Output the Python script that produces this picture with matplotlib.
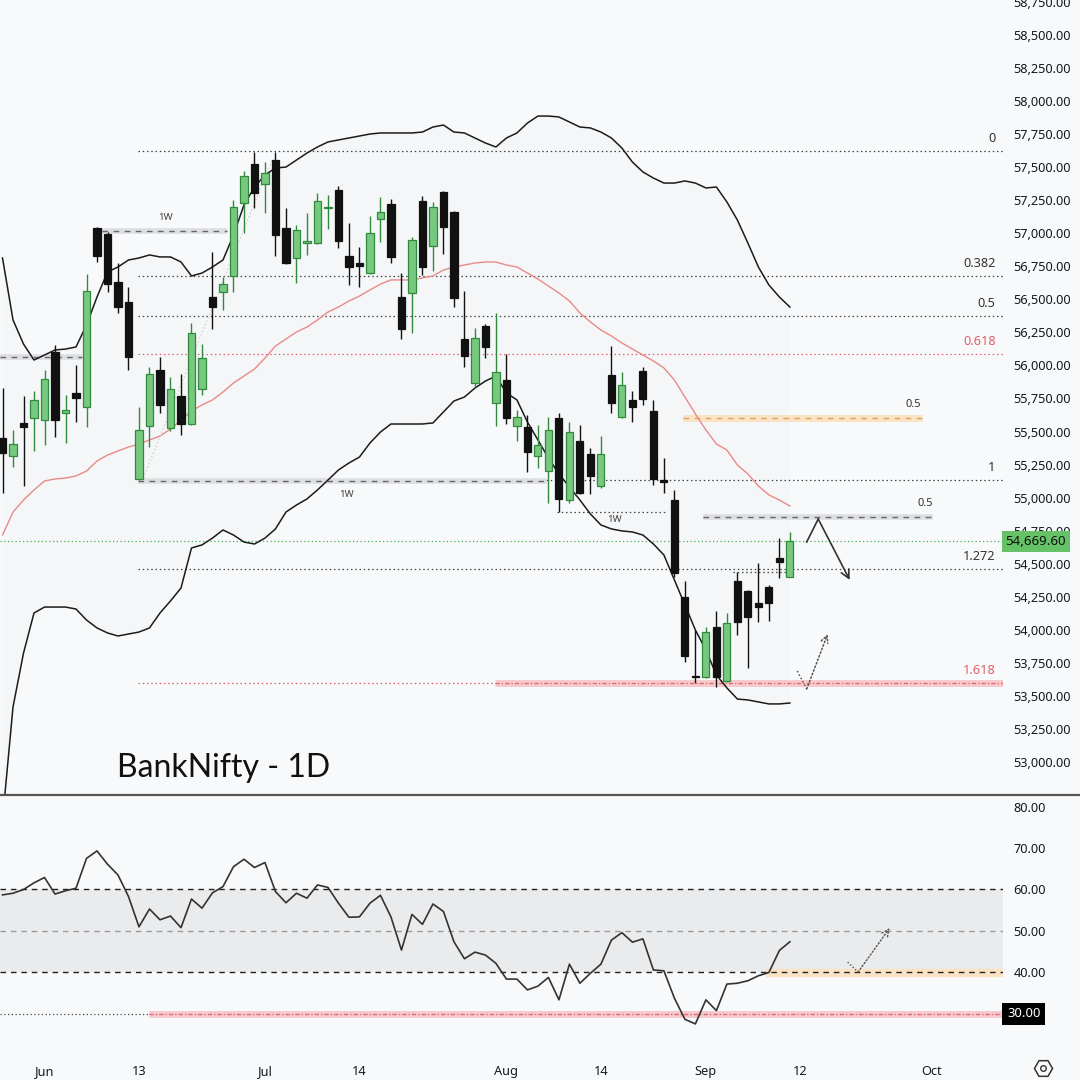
import numpy as np
import matplotlib
matplotlib.use("Agg")
import matplotlib.pyplot as plt
from matplotlib.lines import Line2D

# BankNifty daily candles, 27 May -> 11 Sep (one entry per trading day)
opens = [55449, 55315, 55565, 55603, 55587, 56102, 55640, 55792, 55686, 57040,
         56995, 56632, 56480, 55141, 55542, 55966, 55527, 55769, 55557, 55822,
         56518, 56556, 56677, 57229, 57524, 57373, 57555, 57040, 56813, 56927,
         56927, 57191, 57328, 56828, 56775, 56700, 57108, 57222, 56518, 56548,
         57244, 56904, 57312, 57161, 56200, 55867, 56299, 55716, 55890, 55542,
         55534, 55315, 55202, 55603, 54982, 55429, 55330, 55088, 55928, 55610,
         55739, 55958, 55656, 55134, 54982, 54248, 53651, 53643, 54021, 53613,
         54369, 54294, 54203, 54324, 54543, 54400]
highs = [55827, 55512, 55769, 55807, 55966, 56155, 55777, 56004, 56692, 57048,
         57010, 56775, 56594, 55686, 55988, 56064, 55913, 55935, 56321, 56162,
         56858, 56669, 57252, 57471, 57615, 57539, 57615, 57191, 57063, 57154,
         57305, 57290, 57358, 57078, 56896, 57131, 57275, 57260, 56700, 56972,
         57282, 57237, 57320, 57169, 56563, 56283, 56314, 56397, 56087, 55663,
         55625, 55550, 55610, 55640, 55572, 55550, 55376, 55466, 56147, 55951,
         55807, 55988, 55739, 55300, 55058, 54369, 53999, 54021, 54142, 54127,
         54437, 54300, 54505, 54339, 54695, 54740]
lows = [55033, 55232, 55088, 55353, 55398, 55459, 55413, 55572, 55534, 56783,
        56556, 56397, 55966, 55134, 55383, 55640, 55504, 55474, 55550, 55777,
        56276, 56420, 56556, 57002, 57191, 57154, 56828, 56768, 56624, 56836,
        56920, 57033, 56889, 56609, 56594, 56692, 56934, 56775, 56200, 56246,
        56684, 56715, 56843, 56442, 55988, 55837, 56056, 55542, 55557, 55429,
        55194, 55224, 54960, 54891, 54960, 55028, 55028, 55073, 55640, 55605,
        55572, 55701, 55096, 55035, 54400, 53756, 53598, 53635, 53567, 53605,
        53961, 53711, 54059, 54067, 54392, 54400]
closes = [55340, 55406, 55534, 55739, 55898, 55587, 55663, 55754, 56563, 56828,
          56616, 56442, 56064, 55512, 55935, 55701, 55822, 55557, 56246, 56056,
          56442, 56616, 57199, 57434, 57305, 57456, 56987, 56775, 57025, 56942,
          57244, 57199, 56942, 56745, 56753, 57002, 57161, 56821, 56276, 56949,
          56745, 57199, 57048, 56510, 56072, 56208, 56140, 55951, 55603, 55610,
          55345, 55398, 55512, 54990, 55497, 55035, 55164, 55330, 55716, 55852,
          55686, 55746, 55141, 55118, 54430, 53802, 53643, 53983, 53643, 54052,
          54059, 54097, 54173, 54203, 54512, 54669.60]

# Bollinger bands
bb_upper = [56813, 56344, 56162, 56041, 56079, 56117, 56124, 56140, 56306, 56518,
            56707, 56745, 56798, 56813, 56836, 56821, 56821, 56783, 56677, 56699,
            56745, 56798, 56987, 57214, 57350, 57441, 57494, 57501, 57554, 57607,
            57653, 57691, 57706, 57721, 57736, 57751, 57759, 57759, 57759, 57759,
            57766, 57804, 57819, 57766, 57759, 57721, 57683, 57653, 57721, 57759,
            57834, 57887, 57887, 57880, 57842, 57804, 57797, 57766, 57721, 57645,
            57539, 57464, 57418, 57380, 57380, 57396, 57380, 57343, 57350, 57237,
            57100, 56926, 56745, 56609, 56518, 56442]
bb_basis = [54717, 54891, 54982, 55058, 55126, 55141, 55148, 55164, 55201, 55277,
            55322, 55353, 55383, 55406, 55436, 55466, 55519, 55587, 55655, 55701,
            55739, 55799, 55867, 55920, 55973, 56056, 56147, 56200, 56253, 56291,
            56344, 56404, 56442, 56488, 56525, 56571, 56616, 56647, 56647, 56647,
            56662, 56677, 56722, 56745, 56760, 56775, 56783, 56783, 56760, 56745,
            56699, 56654, 56601, 56548, 56488, 56397, 56329, 56268, 56223, 56170,
            56124, 56079, 56034, 55981, 55890, 55761, 55633, 55512, 55406, 55360,
            55247, 55179, 55088, 55020, 54982, 54937]
bb_lower = [52561, 53416, 53824, 54127, 54172, 54172, 54172, 54157, 54074, 54014,
            53976, 53953, 53968, 53983, 54014, 54127, 54218, 54316, 54619, 54642,
            54694, 54755, 54717, 54664, 54649, 54694, 54763, 54891, 54944, 54990,
            55058, 55133, 55209, 55262, 55307, 55413, 55496, 55557, 55557, 55557,
            55557, 55565, 55648, 55731, 55761, 55829, 55882, 55920, 55792, 55739,
            55572, 55436, 55300, 55179, 55080, 54982, 54876, 54793, 54763, 54748,
            54740, 54717, 54649, 54566, 54377, 54188, 53998, 53847, 53658, 53560,
            53476, 53469, 53454, 53439, 53439, 53446]

rsi = [58.7, 59.1, 60.0, 61.6, 62.9, 58.9, 59.7, 60.3, 67.5, 69.3,
       66.1, 63.5, 58.3, 51.0, 55.3, 52.7, 53.6, 50.8, 57.7, 55.5,
       59.2, 60.7, 65.5, 67.3, 65.3, 66.5, 59.5, 56.8, 59.1, 57.9,
       61.1, 60.5, 56.7, 53.3, 53.4, 56.7, 58.6, 53.4, 45.4, 54.0,
       51.6, 56.5, 54.7, 47.4, 43.3, 44.9, 44.2, 42.2, 38.4, 38.4,
       35.8, 36.7, 38.8, 33.4, 42.0, 37.4, 39.8, 42.0, 47.8, 49.6,
       47.3, 48.1, 40.6, 40.4, 33.8, 28.7, 27.6, 33.4, 30.8, 37.2,
       37.4, 38.0, 39.2, 40.0, 45.3, 47.4]

date_ticks = [4, 13, 25, 34, 48, 57, 67, 76, 88.5]
date_labels = ["Jun", "13", "Jul", "14", "Aug", "14", "Sep", "12", "Oct"]

fib_labels = ["0", "0.382", "0.5", "0.618", "1", "1.272", "1.618"]
fib_prices = [57623, 56677, 56374, 56087, 55133, 54460, 53597]
fib_red = ["0.618", "1.618"]
last_price = 54669.60

BG = "#f8f9fa"
GREEN_FILL = "#76c97f"
GREEN_EDGE = "#2f8a3c"
DARK = "#131722"
XMIN, XMAX = -0.24, 95.3

plt.rcParams["font.family"] = ["Noto Sans", "DejaVu Sans"]

fig = plt.figure(figsize=(10.8, 10.8), dpi=100, facecolor=BG)
ax = fig.add_axes([0, 285 / 1080, 1003 / 1080, 795 / 1080], facecolor=BG)
axr = fig.add_axes([0, 25 / 1080, 1003 / 1080, 258 / 1080], facecolor=BG)

for a in (ax, axr):
    for s in a.spines.values():
        s.set_visible(False)
    a.set_xlim(XMIN, XMAX)

ax.set_ylim(52750, 58765)
axr.set_ylim(20.1, 82.3)

# ---- price pane ----
idx = np.arange(len(closes))
o = np.array(opens, float)
c = np.array(closes, float)
h = np.array(highs, float)
l = np.array(lows, float)
up = c >= o
body_lo = np.minimum(o, c)
body_h = np.maximum(np.abs(c - o), 9)

ax.fill_between(idx, bb_lower, bb_upper, color="#5b7fa8", alpha=0.018, lw=0, zorder=1)
ax.plot(idx, bb_upper, color="#1c1c1c", lw=1.1, zorder=2)
ax.plot(idx, bb_lower, color="#1c1c1c", lw=1.1, zorder=2)
ax.plot(idx, bb_basis, color="#e98a8a", lw=1.0, zorder=2)

ax.vlines(idx[up], l[up], h[up], color=GREEN_EDGE, lw=1.0, zorder=3)
ax.vlines(idx[~up], l[~up], h[~up], color="#111111", lw=1.0, zorder=3)
ax.bar(idx[up], body_h[up], bottom=body_lo[up], width=0.68, color=GREEN_FILL,
       edgecolor=GREEN_EDGE, linewidth=0.9, zorder=4)
ax.bar(idx[~up], body_h[~up], bottom=body_lo[~up], width=0.68, color="#111111",
       edgecolor="#111111", linewidth=0.9, zorder=4)

# fib levels
for lab, p in zip(fib_labels, fib_prices):
    col = "#e0606c" if lab in fib_red else "#444444"
    ax.hlines(p, 12.9, XMAX, colors=col, lw=0.9, linestyles=(0, (1.2, 2.2)), zorder=1.5)
    ax.annotate(lab, (94.6, p), xytext=(0, 4), textcoords="offset points",
                ha="right", va="bottom", fontsize=9.2,
                color="#e0606c" if lab in fib_red else "#333333")


def band(y, x0, x1, fill, line, lw_fill, dash):
    ax.hlines(y, x0, x1, colors=fill, lw=lw_fill, zorder=1.6)
    ax.hlines(y, x0, x1, colors=line, lw=1.0, linestyles=dash, zorder=1.7)


band(57017, 9.5, 21.4, "#dddee1", "#666666", 4.0, (0, (4, 4)))
band(56064, XMIN, 7.6, "#dddee1", "#666666", 4.0, (0, (4, 4)))
band(55126, 12.9, 51.9, "#dddee1", "#666666", 4.0, (0, (4, 4)))
band(54853, 66.7, 88.6, "#dddee1", "#666666", 4.0, (0, (4, 4)))
band(55599, 64.8, 87.6, "#fbe3c4", "#d9a463", 5.0, (0, (4, 4)))
band(53597, 46.9, XMAX, "#f7cacd", "#e06872", 5.0, (0, (3, 1.5, 1, 1.5)))

ax.hlines(54891, 52.8, 63.3, colors="#444444", lw=0.9, linestyles=(0, (1.2, 2.2)), zorder=1.5)
ax.hlines(54437, 69.6, 74.9, colors="#444444", lw=0.9, linestyles=(0, (1.2, 2.2)), zorder=1.5)
ax.hlines(last_price, XMIN, XMAX, colors="#4caf50", lw=0.9, linestyles=(0, (1, 2)), zorder=1.5)

# faint trend line
ax.plot([13.4, 25.7], [55148, 57560], color="#c9c9c9", lw=0.9, ls=(0, (1, 2)), zorder=2)

for x, y in [(15.5, 57116), (32.8, 55027), (58.3, 54831)]:
    ax.text(x, y, "1W", ha="center", va="center", fontsize=7, color="#444444",
            fontweight="bold")
ax.annotate("0.5", (87.5, 55599), xytext=(0, 6), textcoords="offset points",
            ha="right", va="bottom", fontsize=8, color="#333333", fontweight="bold")
ax.annotate("0.5", (88.6, 54853), xytext=(0, 6), textcoords="offset points",
            ha="right", va="bottom", fontsize=8, color="#333333", fontweight="bold")

# projection arrows
ax.plot([76.6, 77.7], [54664, 54838], color="#333333", lw=1.2, zorder=5)
ax.annotate("", xy=(80.7, 54377), xytext=(77.7, 54838),
            arrowprops=dict(arrowstyle="->,head_length=0.6,head_width=0.3",
                            color="#333333", lw=1.2, shrinkA=0, shrinkB=0), zorder=5)
ax.plot([75.7, 76.6], [53688, 53552], color="#555555", lw=1.1, ls=(0, (1, 1.5)), zorder=5)
ax.annotate("", xy=(78.6, 53968), xytext=(76.6, 53552),
            arrowprops=dict(arrowstyle="->,head_length=0.5,head_width=0.25",
                            color="#555555", lw=1.1, ls=(0, (1, 1.5)),
                            shrinkA=0, shrinkB=0), zorder=5)

# price axis
ax.yaxis.tick_right()
ax.set_yticks(np.arange(53000, 58751, 250))
ax.set_yticklabels([f"{v:,.2f}" for v in np.arange(53000, 58751, 250)])
ax.tick_params(axis="y", length=0, pad=7.5, labelsize=9.2, labelcolor=DARK)
ax.set_xticks([])
ax.text(1.0025, last_price, f"{last_price:,.2f}", transform=ax.get_yaxis_transform(),
        ha="left", va="center", fontsize=9.6, color="#111111", zorder=10, clip_on=False,
        bbox=dict(boxstyle="square,pad=0.3", fc="#66c267", ec="none"))

fig.text(117 / 1080, 1 - 777 / 1080, "BankNifty - 1D", fontsize=23,
         family=["Lato", "DejaVu Sans"], fontweight="normal", color="#111111",
         va="baseline")

# ---- RSI pane ----
axr.axhspan(40, 60, color="#eaebed", lw=0, zorder=0)
axr.hlines([60, 40], XMIN, XMAX, colors="#222222", lw=1.0, linestyles=(0, (4, 3.5)), zorder=2)
axr.hlines(50, XMIN, XMAX, colors="#9a9a9a", lw=1.0, linestyles=(0, (4, 3.5)), zorder=2)
axr.hlines(30, XMIN, 14.0, colors="#444444", lw=0.9, linestyles=(0, (1, 2)), zorder=2)
axr.hlines(30, 14.0, XMAX, colors="#f7cacd", lw=5.0, zorder=1.5)
axr.hlines(30, 14.0, XMAX, colors="#e06872", lw=1.0, linestyles=(0, (3, 1.5, 1, 1.5)), zorder=1.7)
axr.hlines(39.8, 72.7, XMAX, colors="#fbe3c4", lw=6.0, zorder=1.5)
axr.plot(idx, rsi, color="#333333", lw=1.2, zorder=3)

axr.plot([80.5, 81.5], [42.5, 40.1], color="#555555", lw=1.0, ls=(0, (1, 1.5)), zorder=5)
axr.annotate("", xy=(84.5, 50.7), xytext=(81.5, 40.1),
             arrowprops=dict(arrowstyle="->,head_length=0.5,head_width=0.25",
                             color="#555555", lw=1.0, ls=(0, (1, 1.5)),
                             shrinkA=0, shrinkB=0), zorder=5)

axr.yaxis.tick_right()
axr.set_yticks([40, 50, 60, 70, 80])
axr.set_yticklabels([f"{v:.2f}" for v in [40, 50, 60, 70, 80]])
axr.tick_params(axis="y", length=0, pad=7.5, labelsize=9.2, labelcolor=DARK)
axr.text(1.004, 30, "30.00", transform=axr.get_yaxis_transform(), ha="left", va="center",
         fontsize=9.4, color="white", fontweight="bold", clip_on=False, zorder=10,
         bbox=dict(boxstyle="square,pad=0.35", fc="#000000", ec="none"))
axr.set_xticks(date_ticks)
axr.set_xticklabels(date_labels)
axr.tick_params(axis="x", length=0, pad=7, labelsize=9.2, labelcolor=DARK)

# pane separator and settings glyph
fig.add_artist(Line2D([0, 1], [1 - 795 / 1080] * 2, color="#555555", lw=1.6))
fig.add_artist(Line2D([1043 / 1080], [1 - 1068 / 1080], marker="H", ms=13, mfc="none",
                      mec="#333333", mew=1.1))
fig.add_artist(Line2D([1043 / 1080], [1 - 1068 / 1080], marker="o", ms=4, mfc="none",
                      mec="#333333", mew=1.0))

fig.savefig("out.png", dpi=100, facecolor=BG)
